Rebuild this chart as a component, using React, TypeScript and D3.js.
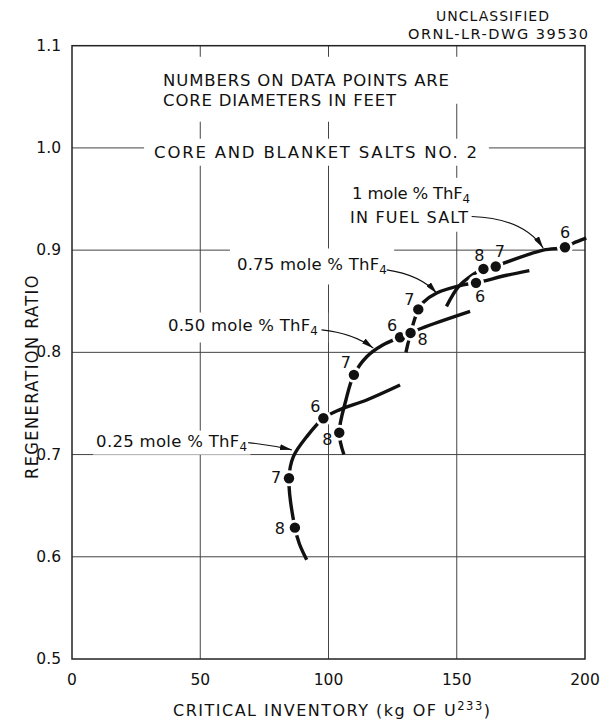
import * as React from "react";
import * as d3 from "d3";

type Pt = [number, number]; // [kg U233, regeneration ratio]
type Dot = { d: number; kg: number; ratio: number };

const X_TICKS = [0, 50, 100, 150, 200];
const Y_TICKS = [0.5, 0.6, 0.7, 0.8, 0.9, 1.0, 1.1];
const Y_TICK_LABELS = ["0.5", "0.6", "0.7", "0.8", "0.9", "1.0", "1.1"];

// curves
const CURVE_025: Pt[] = [
  [91.5, 0.597], [88.6, 0.613], [86.9, 0.6285], [84.6, 0.6768], [86.3, 0.698],
  [91.5, 0.7175], [98.0, 0.7355], [104.5, 0.744], [114.9, 0.7534], [127.9, 0.768],
];
const CURVE_050: Pt[] = [
  [106.0, 0.7], [104.2, 0.7214], [106.8, 0.7534], [109.9, 0.778], [115.0, 0.796],
  [121.0, 0.807], [127.9, 0.8148], [136.3, 0.8236], [155.2, 0.84],
];
const CURVE_075: Pt[] = [
  [130.2, 0.8], [132.0, 0.819], [135.0, 0.842], [137.0, 0.849], [142.2, 0.858],
  [152.5, 0.866], [157.5, 0.868], [169.5, 0.8754], [178.3, 0.88],
];
const CURVE_100: Pt[] = [
  [146.0, 0.845], [150.6, 0.864], [155.2, 0.874], [160.4, 0.8816], [165.2, 0.884],
  [168.1, 0.887], [183.7, 0.9], [192.2, 0.9028], [195.4, 0.9068], [200.5, 0.9117],
];

// data points, d = core diameter in feet
const POINTS_025: Dot[] = [
  { d: 8, kg: 86.9, ratio: 0.6285 },
  { d: 7, kg: 84.6, ratio: 0.6768 },
  { d: 6, kg: 98.0, ratio: 0.7355 },
];
const POINTS_050: Dot[] = [
  { d: 8, kg: 104.2, ratio: 0.7214 },
  { d: 7, kg: 109.9, ratio: 0.778 },
  { d: 6, kg: 127.9, ratio: 0.8148 },
];
const POINTS_075: Dot[] = [
  { d: 8, kg: 132.0, ratio: 0.819 },
  { d: 7, kg: 135.0, ratio: 0.842 },
  { d: 6, kg: 157.5, ratio: 0.868 },
];
const POINTS_100: Dot[] = [
  { d: 8, kg: 160.4, ratio: 0.8816 },
  { d: 7, kg: 165.2, ratio: 0.884 },
  { d: 6, kg: 192.2, ratio: 0.9028 },
];

const SERIES = [
  { key: "025", curve: CURVE_025, points: POINTS_025 },
  { key: "050", curve: CURVE_050, points: POINTS_050 },
  { key: "075", curve: CURVE_075, points: POINTS_075 },
  { key: "100", curve: CURVE_100, points: POINTS_100 },
];

// where the diameter number sits relative to its dot (px)
const LABEL_OFFSET: Record<string, [number, number]> = {
  "025-8": [-15, 1], "025-7": [-13, -1], "025-6": [-8, -12],
  "050-8": [-12, 7], "050-7": [-8, -12], "050-6": [-8, -12],
  "075-8": [12, 7], "075-7": [-9, -10], "075-6": [4, 14],
  "100-8": [-4, -13], "100-7": [4, -15], "100-6": [0, -15],
};

const FONT = "'DejaVu Sans', sans-serif";
const INK = "#111";

type Part = { t: string; sub?: boolean; sup?: boolean };

export default function App() {
  const ref = React.useRef<SVGSVGElement | null>(null);

  React.useEffect(() => {
    if (!ref.current) return;
    const svg = d3.select(ref.current);
    svg.selectAll("*").remove();

    const x = d3.scaleLinear().domain([0, 200]).range([72, 585]);
    const y = d3.scaleLinear().domain([0.5, 1.1]).range([659, 45.7]);

    svg.append("rect").attr("width", 603).attr("height", 719).attr("fill", "#fff");

    const gGrid = svg.append("g");
    const gMask = svg.append("g");
    const gFrame = svg.append("g");
    const gCurves = svg.append("g");
    const gDots = svg.append("g");
    const gArrows = svg.append("g");
    const gText = svg.append("g").attr("font-family", FONT).attr("fill", INK);

    // grid
    X_TICKS.slice(1, -1).forEach((v) => {
      gGrid.append("line")
        .attr("x1", x(v)).attr("x2", x(v))
        .attr("y1", y(0.5)).attr("y2", y(1.1))
        .attr("stroke", "#444").attr("stroke-width", 1);
    });
    Y_TICKS.slice(1, -1).forEach((v) => {
      gGrid.append("line")
        .attr("x1", x(0)).attr("x2", x(200))
        .attr("y1", y(v)).attr("y2", y(v))
        .attr("stroke", "#444").attr("stroke-width", 1);
    });
    gFrame.append("rect")
      .attr("x", x(0)).attr("y", y(1.1))
      .attr("width", x(200) - x(0)).attr("height", y(0.5) - y(1.1))
      .attr("fill", "none").attr("stroke", "#222").attr("stroke-width", 1.5);

    // text helper: parts with sub/superscripts, stretched to a width
    function addText(
      px: number, py: number, parts: Part[], size: number,
      width?: number, anchor = "start", mask?: [number, number],
    ) {
      const t = gText.append("text")
        .attr("x", px).attr("y", py)
        .attr("font-size", size)
        .attr("text-anchor", anchor);
      let shift = 0;
      parts.forEach((p) => {
        const ts = t.append("tspan").text(p.t);
        const target = p.sub ? 4 : p.sup ? -6 : 0;
        if (target !== shift) ts.attr("dy", target - shift);
        if (p.sub || p.sup) ts.attr("font-size", size * 0.72);
        shift = target;
      });
      const node = t.node() as SVGTextElement;
      if (width) {
        const len = node.getComputedTextLength();
        const n = (node.textContent ?? "").length;
        if (n > 1) t.attr("letter-spacing", (width - len) / (n - 1));
      }
      if (mask) {
        const b = node.getBBox();
        gMask.append("rect")
          .attr("x", b.x - mask[0]).attr("y", b.y - mask[1])
          .attr("width", b.width + mask[0] * 2).attr("height", b.height + mask[1] * 2)
          .attr("fill", "#fff");
      }
      return t;
    }

    const thf = (lead: string): Part[] => [{ t: lead + " mole % ThF" }, { t: "4", sub: true }];

    // header
    addText(436, 21, [{ t: "UNCLASSIFIED" }], 14, 113);
    addText(408, 38.5, [{ t: "ORNL-LR-DWG 39530" }], 14.5, 180);

    // tick labels
    Y_TICKS.forEach((v, i) => {
      gText.append("text")
        .attr("x", 61).attr("y", y(v))
        .attr("dominant-baseline", "central")
        .attr("text-anchor", "end")
        .attr("font-size", 15.5)
        .text(Y_TICK_LABELS[i]);
    });
    X_TICKS.forEach((v) => {
      gText.append("text")
        .attr("x", x(v)).attr("y", 685)
        .attr("text-anchor", "middle")
        .attr("font-size", 15.5)
        .text(String(v));
    });

    // axis titles
    addText(173, 716, [{ t: "CRITICAL INVENTORY (kg OF U" }, { t: "233", sup: true }, { t: ")" }], 16, 317);
    addText(0, 0, [{ t: "REGENERATION RATIO" }], 18, 224)
      .attr("font-family", "'DejaVu Sans Condensed', 'Liberation Sans Narrow', 'DejaVu Sans', sans-serif")
      .attr("transform", "translate(38,479) rotate(-90)");

    // notes inside the plot
    addText(x(35.5), y(1.0608), [{ t: "NUMBERS ON DATA POINTS ARE" }], 16.5, 286, "start", [10, 14]);
    addText(x(35.5), y(1.0413), [{ t: "CORE DIAMETERS IN FEET" }], 16.5, 233, "start", [10, 12]);
    addText(x(32.0), y(0.9904), [{ t: "CORE AND BLANKET SALTS NO. 2" }], 16.5, 323, "start", [10, 4]);
    addText(x(109.2), y(0.9502), [{ t: "1 mole % ThF" }, { t: "4", sub: true }], 16.5, 118, "start", [6, 6]);
    addText(x(108.4), y(0.9268), [{ t: "IN FUEL SALT" }], 16, 118, "start", [6, 5]);
    addText(x(64.3), y(0.8801), thf("0.75"), 16.5, 150, "start", [7, 7]);
    addText(x(37.4), y(0.8204), thf("0.50"), 16.5, 150, "start", [10, 4]);
    addText(x(9.4), y(0.7078), thf("0.25"), 16.5, 151, "start", [3, 1]);

    // arrows
    const defs = svg.append("defs");
    defs.append("marker")
      .attr("id", "head")
      .attr("viewBox", "0 0 12 6")
      .attr("refX", 12).attr("refY", 3)
      .attr("markerWidth", 12).attr("markerHeight", 6)
      .attr("markerUnits", "userSpaceOnUse")
      .attr("orient", "auto")
      .append("path").attr("d", "M0,0 L12,3 L0,6 Z").attr("fill", INK);

    const ARROWS: [Pt, Pt, Pt][] = [
      [[155.8, 0.9329], [176.0, 0.9313], [183.7, 0.902]],
      [[122.7, 0.8807], [135.7, 0.8759], [142.2, 0.8579]],
      [[97.3, 0.822], [109.7, 0.8188], [117.5, 0.8041]],
      [[68.7, 0.7117], [77.2, 0.7095], [85.7, 0.7046]],
    ];
    ARROWS.forEach(([s, c, e]) => {
      const p = d3.path();
      p.moveTo(x(s[0]), y(s[1]));
      p.quadraticCurveTo(x(c[0]), y(c[1]), x(e[0]), y(e[1]));
      gArrows.append("path")
        .attr("d", p.toString())
        .attr("fill", "none")
        .attr("stroke", INK)
        .attr("stroke-width", 1.1)
        .attr("marker-end", "url(#head)");
    });

    // curves
    const line = d3.line<Pt>()
      .x((d) => x(d[0]))
      .y((d) => y(d[1]))
      .curve(d3.curveCatmullRom.alpha(0.5));
    SERIES.forEach((s) => {
      gCurves.append("path")
        .attr("d", line(s.curve) ?? "")
        .attr("fill", "none")
        .attr("stroke", INK)
        .attr("stroke-width", 3.4)
        .attr("stroke-linecap", "butt");
    });

    // dots with white halos that break the lines
    SERIES.forEach((s) => {
      s.points.forEach((p) => {
        gDots.append("circle")
          .attr("cx", x(p.kg)).attr("cy", y(p.ratio))
          .attr("r", 8).attr("fill", "#fff");
      });
      s.points.forEach((p) => {
        gDots.append("circle")
          .attr("cx", x(p.kg)).attr("cy", y(p.ratio))
          .attr("r", 5.2).attr("fill", INK);
      });
    });

    // diameter numbers
    SERIES.forEach((s) => {
      s.points.forEach((p) => {
        const off = LABEL_OFFSET[`${s.key}-${p.d}`] ?? [0, -14];
        gText.append("text")
          .attr("x", x(p.kg) + off[0]).attr("y", y(p.ratio) + off[1])
          .attr("text-anchor", "middle")
          .attr("dominant-baseline", "central")
          .attr("font-size", 16)
          .text(String(p.d));
      });
    });
  }, []);

  return (
    <svg
      ref={ref}
      width={603}
      height={719}
      style={{ position: "absolute", left: 0, top: 0, background: "#fff" }}
    />
  );
}
